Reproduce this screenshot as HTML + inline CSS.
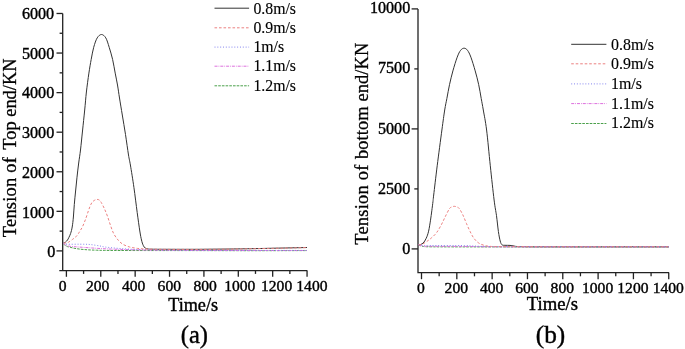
<!DOCTYPE html>
<html><head><meta charset="utf-8"><style>
html,body{margin:0;padding:0;background:#fff;}
body{width:685px;height:349px;overflow:hidden;font-family:"Liberation Serif",serif;}
svg{display:block;will-change:transform;}
</style></head><body>
<svg width="685" height="349" viewBox="0 0 685 349">
<g stroke="#222" stroke-width="1.3" fill="none">
<path d="M62.7 13.5 V270.6 M59.3 270.6 H307.2"/>
<path d="M56.5 250.90 H62.7"/>
<path d="M59.6 231.12 H62.7"/>
<path d="M56.5 211.33 H62.7"/>
<path d="M59.6 191.55 H62.7"/>
<path d="M56.5 171.76 H62.7"/>
<path d="M59.6 151.98 H62.7"/>
<path d="M56.5 132.19 H62.7"/>
<path d="M59.6 112.41 H62.7"/>
<path d="M56.5 92.62 H62.7"/>
<path d="M59.6 72.84 H62.7"/>
<path d="M56.5 53.05 H62.7"/>
<path d="M59.6 33.26 H62.7"/>
<path d="M56.5 13.48 H62.7"/>
<path d="M66.40 270.6 V276.8"/>
<path d="M83.59 270.6 V273.9"/>
<path d="M100.78 270.6 V276.8"/>
<path d="M117.97 270.6 V273.9"/>
<path d="M135.16 270.6 V276.8"/>
<path d="M152.35 270.6 V273.9"/>
<path d="M169.54 270.6 V276.8"/>
<path d="M186.73 270.6 V273.9"/>
<path d="M203.92 270.6 V276.8"/>
<path d="M221.11 270.6 V273.9"/>
<path d="M238.30 270.6 V276.8"/>
<path d="M255.49 270.6 V273.9"/>
<path d="M272.68 270.6 V276.8"/>
<path d="M289.87 270.6 V273.9"/>
<path d="M307.06 270.6 V276.8"/>
</g>
<g font-family="Liberation Serif" fill="#000" stroke="#000" stroke-width="0.4" font-size="16.1" text-anchor="end">
<text x="55.20" y="256.80">0</text>
<text x="54.20" y="217.50">1000</text>
<text x="54.20" y="177.90">2000</text>
<text x="54.20" y="137.90">3000</text>
<text x="54.20" y="97.90">4000</text>
<text x="54.20" y="58.70">5000</text>
<text x="54.10" y="18.70">6000</text>
</g>
<g font-family="Liberation Serif" fill="#000" stroke="#000" stroke-width="0.4" font-size="15.6" text-anchor="middle">
<text x="62.60" y="290.6">0</text>
<text x="97.60" y="290.6">200</text>
<text x="133.60" y="290.6">400</text>
<text x="169.30" y="290.6">600</text>
<text x="205.10" y="290.6">800</text>
<text x="239.80" y="290.6">1000</text>
<text x="276.60" y="290.6">1200</text>
<text x="311.90" y="290.6">1400</text>
</g>
<text x="193.1" y="310.6" font-family="Liberation Serif" fill="#000" stroke="#000" stroke-width="0.4" font-size="18.2" text-anchor="middle">Time/s</text>
<text x="194.4" y="342.6" font-family="Liberation Serif" fill="#000" stroke="#000" stroke-width="0.4" font-size="24.5" text-anchor="middle">(a)</text>
<text transform="translate(15.6 237.2) rotate(-90)" font-family="Liberation Serif" fill="#000" stroke="#000" stroke-width="0.3" font-size="18.4"><tspan x="0" letter-spacing="0.25">Tension of</tspan> <tspan x="87.5">Top end/KN</tspan></text>
<path d="M63.50 243.00 C63.83 242.85 64.83 242.60 65.50 242.10 C66.17 241.60 66.95 240.75 67.50 240.00 C68.05 239.25 68.28 238.68 68.80 237.60 C69.32 236.52 70.03 235.27 70.60 233.50 C71.17 231.73 71.73 229.75 72.20 227.00 C72.67 224.25 73.05 220.75 73.40 217.00 C73.75 213.25 73.93 208.83 74.30 204.50 C74.67 200.17 75.15 195.55 75.60 191.00 C76.05 186.45 76.48 181.87 77.00 177.20 C77.52 172.53 78.12 167.53 78.70 163.00 C79.28 158.47 79.87 155.33 80.50 150.00 C81.13 144.67 81.80 137.67 82.50 131.00 C83.20 124.33 84.05 116.50 84.70 110.00 C85.35 103.50 85.70 98.15 86.40 92.00 C87.10 85.85 88.10 78.53 88.90 73.10 C89.70 67.67 90.40 63.70 91.20 59.40 C92.00 55.10 92.70 50.88 93.70 47.30 C94.70 43.72 95.90 40.03 97.20 37.90 C98.50 35.77 100.07 34.50 101.50 34.50 C102.93 34.50 104.52 35.77 105.80 37.90 C107.08 40.03 108.07 43.72 109.20 47.30 C110.33 50.88 111.60 55.10 112.60 59.40 C113.60 63.70 114.38 68.83 115.20 73.10 C116.02 77.37 116.78 80.85 117.50 85.00 C118.22 89.15 118.70 93.00 119.50 98.00 C120.30 103.00 121.30 108.92 122.30 115.00 C123.30 121.08 124.47 127.83 125.50 134.50 C126.53 141.17 127.68 149.92 128.50 155.00 C129.32 160.08 129.50 159.62 130.40 165.00 C131.30 170.38 132.77 179.38 133.90 187.30 C135.03 195.22 136.22 205.22 137.20 212.50 C138.18 219.78 139.08 226.42 139.80 231.00 C140.52 235.58 140.93 237.62 141.50 240.00 C142.07 242.38 142.57 243.95 143.20 245.30 C143.83 246.65 144.50 247.50 145.30 248.10 C146.10 248.70 146.88 248.72 148.00 248.90 C149.12 249.08 148.33 249.13 152.00 249.20 C155.67 249.27 162.00 249.28 170.00 249.30 C178.00 249.32 190.00 249.35 200.00 249.30 C210.00 249.25 220.00 249.13 230.00 249.00 C240.00 248.87 247.17 248.75 260.00 248.50 C272.83 248.25 299.17 247.67 307.00 247.50" fill="none" stroke="#333333" stroke-width="1.0" stroke-opacity="1.0"/>

<path d="M63.50 244.00 C64.02 244.38 65.57 245.78 66.60 246.30 C67.63 246.82 68.32 246.75 69.70 247.10 C71.08 247.45 72.58 248.00 74.90 248.40 C77.22 248.80 80.00 249.20 83.60 249.50 C87.20 249.80 90.43 250.03 96.50 250.20 C102.57 250.37 102.75 250.43 120.00 250.50 C137.25 250.57 178.33 250.57 200.00 250.60 C221.67 250.63 232.17 250.70 250.00 250.70 C267.83 250.70 297.50 250.62 307.00 250.60" fill="none" stroke="#4aa04a" stroke-width="1.0" stroke-dasharray="2.6 1.1" stroke-opacity="1.0"/>

<path d="M63.50 243.00 C63.92 243.42 64.92 244.95 66.00 245.50 C67.08 246.05 67.67 246.03 70.00 246.30 C72.33 246.57 75.00 246.73 80.00 247.10 C85.00 247.47 93.33 248.12 100.00 248.50 C106.67 248.88 111.67 249.13 120.00 249.40 C128.33 249.67 136.67 249.93 150.00 250.10 C163.33 250.27 183.33 250.33 200.00 250.40 C216.67 250.47 232.17 250.48 250.00 250.50 C267.83 250.52 297.50 250.50 307.00 250.50" fill="none" stroke="#dd70dd" stroke-width="1.0" stroke-dasharray="3 1 0.8 1" stroke-opacity="1.0"/>

<path d="M63.50 243.00 C64.08 243.20 64.25 244.00 67.00 244.20 C69.75 244.40 76.17 244.15 80.00 244.20 C83.83 244.25 86.67 244.20 90.00 244.50 C93.33 244.80 97.50 245.58 100.00 246.00 C102.50 246.42 101.67 246.58 105.00 247.00 C108.33 247.42 114.17 248.07 120.00 248.50 C125.83 248.93 131.67 249.33 140.00 249.60 C148.33 249.87 160.00 249.98 170.00 250.10 C180.00 250.22 186.67 250.25 200.00 250.30 C213.33 250.35 232.17 250.38 250.00 250.40 C267.83 250.42 297.50 250.40 307.00 250.40" fill="none" stroke="#8484ee" stroke-width="1.0" stroke-dasharray="1 1.83" stroke-opacity="1.0"/>

<path d="M63.50 243.00 C63.93 242.98 65.23 243.05 66.10 242.90 C66.97 242.75 67.63 242.68 68.70 242.10 C69.77 241.52 71.30 240.28 72.50 239.40 C73.70 238.52 74.93 237.75 75.90 236.80 C76.87 235.85 77.53 234.80 78.30 233.70 C79.07 232.60 79.78 231.40 80.50 230.20 C81.22 229.00 81.77 228.30 82.60 226.50 C83.43 224.70 84.53 222.02 85.50 219.40 C86.47 216.78 87.62 213.03 88.40 210.80 C89.18 208.57 89.60 207.40 90.20 206.00 C90.80 204.60 91.28 203.35 92.00 202.40 C92.72 201.45 93.65 200.80 94.50 200.30 C95.35 199.80 96.27 199.42 97.10 199.40 C97.93 199.38 98.80 199.67 99.50 200.20 C100.20 200.73 100.48 201.18 101.30 202.60 C102.12 204.02 103.35 206.37 104.40 208.70 C105.45 211.03 106.55 213.72 107.60 216.60 C108.65 219.48 109.65 223.10 110.70 226.00 C111.75 228.90 112.58 231.57 113.90 234.00 C115.22 236.43 117.03 238.85 118.60 240.60 C120.17 242.35 121.47 243.43 123.30 244.50 C125.13 245.57 127.65 246.42 129.60 247.00 C131.55 247.58 132.93 247.70 135.00 248.00 C137.07 248.30 137.83 248.58 142.00 248.80 C146.17 249.02 150.33 249.20 160.00 249.30 C169.67 249.40 188.33 249.43 200.00 249.40 C211.67 249.37 220.00 249.23 230.00 249.10 C240.00 248.97 247.17 248.85 260.00 248.60 C272.83 248.35 299.17 247.77 307.00 247.60" fill="none" stroke="#ec8080" stroke-width="1.0" stroke-dasharray="2.6 1.9" stroke-opacity="1.0"/>

<path d="M214.5 8.2 H249.1" stroke="#333333" stroke-width="1" fill="none"/>
<text x="253.4" y="13.8" font-family="Liberation Serif" fill="#000" stroke="#000" stroke-width="0.15" font-size="15.8">0.8m/s</text>
<path d="M214.5 27.8 H249.1" stroke="#ec8080" stroke-width="1" stroke-dasharray="2.6 1.9" fill="none"/>
<text x="253.4" y="33.2" font-family="Liberation Serif" fill="#000" stroke="#000" stroke-width="0.15" font-size="15.8">0.9m/s</text>
<path d="M214.5 47.1 H249.1" stroke="#8484ee" stroke-width="1" stroke-dasharray="1 1.83" fill="none"/>
<text x="253.4" y="52.3" font-family="Liberation Serif" fill="#000" stroke="#000" stroke-width="0.15" font-size="15.8">1m/s</text>
<path d="M214.5 66.2 H249.1" stroke="#dd70dd" stroke-width="1" stroke-dasharray="3 1 0.8 1" fill="none"/>
<text x="253.4" y="71.2" font-family="Liberation Serif" fill="#000" stroke="#000" stroke-width="0.15" font-size="15.8">1.1m/s</text>
<path d="M214.5 85.8 H249.1" stroke="#4aa04a" stroke-width="1" stroke-dasharray="2.6 1.1" fill="none"/>
<text x="253.4" y="90.7" font-family="Liberation Serif" fill="#000" stroke="#000" stroke-width="0.15" font-size="15.8">1.2m/s</text>
<g stroke="#222" stroke-width="1.3" fill="none">
<path d="M418 8.9 V272.6 H669"/>
<path d="M411.6 248.90 H418"/>
<path d="M414.3 188.90 H418"/>
<path d="M411.6 128.90 H418"/>
<path d="M414.3 68.90 H418"/>
<path d="M411.6 8.90 H418"/>
<path d="M421.50 272.6 V279.2"/>
<path d="M439.16 272.6 V276.3"/>
<path d="M456.82 272.6 V279.2"/>
<path d="M474.48 272.6 V276.3"/>
<path d="M492.14 272.6 V279.2"/>
<path d="M509.80 272.6 V276.3"/>
<path d="M527.46 272.6 V279.2"/>
<path d="M545.12 272.6 V276.3"/>
<path d="M562.78 272.6 V279.2"/>
<path d="M580.44 272.6 V276.3"/>
<path d="M598.10 272.6 V279.2"/>
<path d="M615.76 272.6 V276.3"/>
<path d="M633.42 272.6 V279.2"/>
<path d="M651.08 272.6 V276.3"/>
<path d="M668.74 272.6 V279.2"/>
</g>
<g font-family="Liberation Serif" fill="#000" stroke="#000" stroke-width="0.4" font-size="16.1" text-anchor="end">
<text x="410.2" y="253.80">0</text>
<text x="410.2" y="193.90">2500</text>
<text x="410.2" y="133.50">5000</text>
<text x="410.2" y="72.80">7500</text>
<text x="410.2" y="12.90">10000</text>
</g>
<g font-family="Liberation Serif" fill="#000" stroke="#000" stroke-width="0.4" font-size="15.6" text-anchor="middle">
<text x="421.00" y="293">0</text>
<text x="456.32" y="293">200</text>
<text x="491.64" y="293">400</text>
<text x="526.96" y="293">600</text>
<text x="562.28" y="293">800</text>
<text x="597.60" y="293">1000</text>
<text x="632.92" y="293">1200</text>
<text x="668.24" y="293">1400</text>
</g>
<text x="552.4" y="309.8" font-family="Liberation Serif" fill="#000" stroke="#000" stroke-width="0.4" font-size="18.7" text-anchor="middle">Time/s</text>
<text x="550.5" y="342.6" font-family="Liberation Serif" fill="#000" stroke="#000" stroke-width="0.4" font-size="25.3" text-anchor="middle">(b)</text>
<text transform="translate(367.5 244.8) rotate(-90)" font-family="Liberation Serif" fill="#000" stroke="#000" stroke-width="0.3" font-size="18.4"><tspan x="0" letter-spacing="0.25">Tension of</tspan> <tspan x="85.7" letter-spacing="0.12">bottom end/KN</tspan></text>
<path d="M418.00 245.20 C418.20 245.18 418.35 245.45 419.20 245.10 C420.05 244.75 421.93 244.23 423.10 243.10 C424.27 241.97 425.28 240.28 426.20 238.30 C427.12 236.32 427.88 234.22 428.60 231.20 C429.32 228.18 429.97 223.60 430.50 220.20 C431.03 216.80 431.38 213.95 431.80 210.80 C432.22 207.65 432.68 203.93 433.00 201.30 C433.32 198.67 433.00 200.92 433.70 195.00 C434.40 189.08 435.83 176.63 437.20 165.80 C438.57 154.97 440.65 139.30 441.90 130.00 C443.15 120.70 443.87 115.27 444.70 110.00 C445.53 104.73 446.10 102.62 446.90 98.40 C447.70 94.18 448.50 89.28 449.50 84.70 C450.50 80.12 451.62 75.48 452.90 70.90 C454.18 66.32 455.92 60.63 457.20 57.20 C458.48 53.77 459.45 51.80 460.60 50.30 C461.75 48.80 462.95 48.20 464.10 48.20 C465.25 48.20 466.37 48.80 467.50 50.30 C468.63 51.80 469.62 53.77 470.90 57.20 C472.18 60.63 473.90 66.32 475.20 70.90 C476.50 75.48 477.70 80.12 478.70 84.70 C479.70 89.28 480.43 94.18 481.20 98.40 C481.97 102.62 482.40 104.73 483.30 110.00 C484.20 115.27 485.43 120.70 486.60 130.00 C487.77 139.30 489.05 154.13 490.30 165.80 C491.55 177.47 493.07 191.68 494.10 200.00 C495.13 208.32 495.78 210.45 496.50 215.70 C497.22 220.95 497.78 227.28 498.40 231.50 C499.02 235.72 499.60 238.78 500.20 241.00 C500.80 243.22 501.20 244.08 502.00 244.80 C502.80 245.52 503.67 245.20 505.00 245.30 C506.33 245.40 508.50 245.28 510.00 245.40 C511.50 245.52 512.33 245.80 514.00 246.00 C515.67 246.20 514.00 246.47 520.00 246.60 C526.00 246.73 525.17 246.77 550.00 246.80 C574.83 246.83 649.17 246.80 669.00 246.80" fill="none" stroke="#333333" stroke-width="1.0" stroke-opacity="1.0"/>

<path d="M418.50 245.00 C419.25 245.23 421.08 246.10 423.00 246.40 C424.92 246.70 421.33 246.72 430.00 246.80 C438.67 246.88 435.17 246.87 475.00 246.90 C514.83 246.93 636.67 246.98 669.00 247.00" fill="none" stroke="#4aa04a" stroke-width="1.0" stroke-dasharray="2.6 1.1" stroke-opacity="1.0"/>

<path d="M418.50 244.80 C419.25 245.00 421.08 245.75 423.00 246.00 C424.92 246.25 421.33 246.22 430.00 246.30 C438.67 246.38 463.33 246.42 475.00 246.50 C486.67 246.58 467.67 246.73 500.00 246.80 C532.33 246.87 640.83 246.88 669.00 246.90" fill="none" stroke="#dd70dd" stroke-width="1.0" stroke-dasharray="3 1 0.8 1" stroke-opacity="1.0"/>

<path d="M418.50 244.80 C419.25 244.88 421.08 245.18 423.00 245.30 C424.92 245.42 423.00 245.45 430.00 245.50 C437.00 245.55 456.67 245.47 465.00 245.60 C473.33 245.73 474.17 246.12 480.00 246.30 C485.83 246.48 488.33 246.62 500.00 246.70 C511.67 246.78 521.83 246.78 550.00 246.80 C578.17 246.82 649.17 246.80 669.00 246.80" fill="none" stroke="#8484ee" stroke-width="1.0" stroke-dasharray="1 1.83" stroke-opacity="1.0"/>

<path d="M418.50 244.80 C419.08 244.72 420.83 244.72 422.00 244.30 C423.17 243.88 424.40 242.98 425.50 242.30 C426.60 241.62 427.55 240.98 428.60 240.20 C429.65 239.42 430.48 238.83 431.80 237.60 C433.12 236.37 434.93 234.90 436.50 232.80 C438.07 230.70 439.78 227.60 441.20 225.00 C442.62 222.40 443.65 219.88 445.00 217.20 C446.35 214.52 448.17 210.62 449.30 208.90 C450.43 207.18 450.97 207.33 451.80 206.90 C452.63 206.47 453.47 206.30 454.30 206.30 C455.13 206.30 455.97 206.52 456.80 206.90 C457.63 207.28 458.28 207.25 459.30 208.60 C460.32 209.95 461.70 212.50 462.90 215.00 C464.10 217.50 465.30 220.85 466.50 223.60 C467.70 226.35 468.90 229.10 470.10 231.50 C471.30 233.90 472.27 236.08 473.70 238.00 C475.13 239.92 476.80 241.73 478.70 243.00 C480.60 244.27 483.08 245.03 485.10 245.60 C487.12 246.17 488.32 246.23 490.80 246.40 C493.28 246.57 490.13 246.53 500.00 246.60 C509.87 246.67 521.83 246.77 550.00 246.80 C578.17 246.83 649.17 246.80 669.00 246.80" fill="none" stroke="#ec8080" stroke-width="1.0" stroke-dasharray="2.6 1.9" stroke-opacity="1.0"/>

<path d="M571.2 44.3 H606.4" stroke="#333333" stroke-width="1" fill="none"/>
<text x="611" y="49.9" font-family="Liberation Serif" fill="#000" stroke="#000" stroke-width="0.15" font-size="15.95">0.8m/s</text>
<path d="M571.2 63.8 H606.4" stroke="#ec8080" stroke-width="1" stroke-dasharray="2.6 1.9" fill="none"/>
<text x="611" y="69.4" font-family="Liberation Serif" fill="#000" stroke="#000" stroke-width="0.15" font-size="15.95">0.9m/s</text>
<path d="M571.2 83.9 H606.4" stroke="#8484ee" stroke-width="1" stroke-dasharray="1 1.83" fill="none"/>
<text x="611" y="89.2" font-family="Liberation Serif" fill="#000" stroke="#000" stroke-width="0.15" font-size="15.95">1m/s</text>
<path d="M571.2 103.6 H606.4" stroke="#dd70dd" stroke-width="1" stroke-dasharray="3 1 0.8 1" fill="none"/>
<text x="611" y="108.9" font-family="Liberation Serif" fill="#000" stroke="#000" stroke-width="0.15" font-size="15.95">1.1m/s</text>
<path d="M571.2 123.5 H606.4" stroke="#4aa04a" stroke-width="1" stroke-dasharray="2.6 1.1" fill="none"/>
<text x="611" y="127.8" font-family="Liberation Serif" fill="#000" stroke="#000" stroke-width="0.15" font-size="15.95">1.2m/s</text>
</svg>
</body></html>
